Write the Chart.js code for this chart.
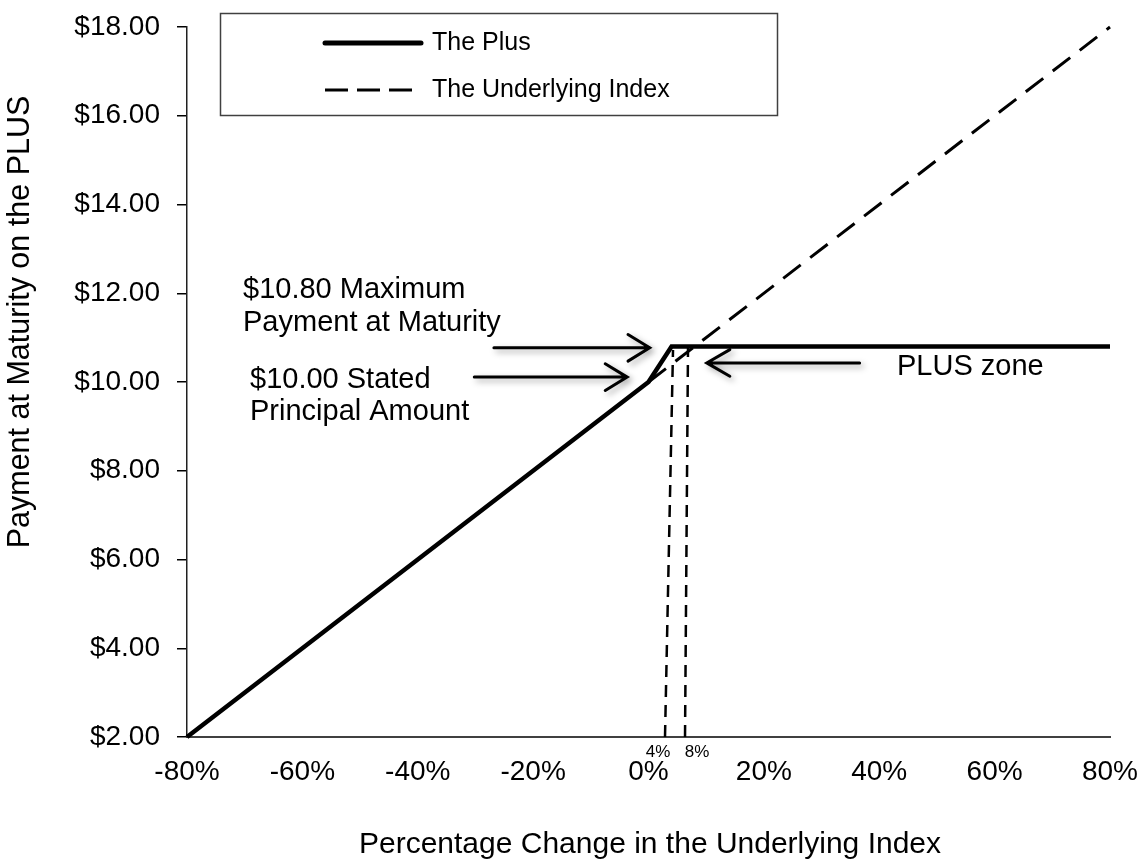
<!DOCTYPE html>
<html><head><meta charset="utf-8">
<script src="https://cdn.jsdelivr.net/npm/chart.js@4.4.0/dist/chart.umd.min.js"></script>
<style>html,body{margin:0;padding:0;background:#fff;} #wrap{width:1142px;height:860px;position:relative;}</style>
</head><body><div id="wrap"><canvas id="c" width="1142" height="860"></canvas></div>
<script>
// ---- data ----
const xTicks = [-80, -60, -40, -20, 0, 20, 40, 60, 80];
const yTicks = [2, 4, 6, 8, 10, 12, 14, 16, 18];
const pctChange = [-80, 0, 4, 80];
const plusPayment = [2, 10, 10.8, 10.8];
const indexPct = [0, 80];
const indexValue = [10, 18];
const guide4Pct = [2.86, 4.25];
const guide4Value = [2, 10.72];
const guide8Pct = [6.33, 6.85];
const guide8Value = [2, 10.83];
const arrowMaxPct = [-26.8, 0.2, null, -3.55, 0.2, -3.55];
const arrowMaxValue = [10.77, 10.77, null, 11.07, 10.77, 10.47];
const arrowPrincipalPct = [-30.2, -3.7, null, -7.5, -3.7, -7.5];
const arrowPrincipalValue = [10.11, 10.11, null, 10.41, 10.11, 9.81];
const arrowZonePct = [36.6, 10.1, null, 14.1, 10.1, 14.1];
const arrowZoneValue = [10.43, 10.43, null, 10.73, 10.43, 10.13];
const seriesNames = ['The Plus', 'The Underlying Index'];
const guideLabels = ['4%', '8%'];
const annotationLines = [
  ['$10.80 Maximum', 'Payment at Maturity'],
  ['$10.00 Stated', 'Principal Amount'],
  ['PLUS zone']
];
const xTitle = 'Percentage Change in the Underlying Index';
const yTitle = 'Payment at Maturity on the PLUS';

// ---- helpers ----
const pts = (xs, ys) => xs.map((x, i) => (x === null ? {x: null, y: null} : {x: x, y: ys[i]}));
const FONT = '"Liberation Sans", Arial, sans-serif';

const base = {showLine: true, pointRadius: 0, pointHoverRadius: 0, fill: false, clip: false, spanGaps: false, borderColor: '#000'};

const datasets = [
  Object.assign({}, base, {label: seriesNames[0], data: pts(pctChange, plusPayment), borderWidth: 4.5, borderJoinStyle: 'miter', borderCapStyle: 'butt'}),
  Object.assign({}, base, {label: seriesNames[1], data: pts(indexPct, indexValue), borderWidth: 3, borderDash: [22, 12]}),
  Object.assign({}, base, {label: 'g4', data: pts(guide4Pct, guide4Value), borderWidth: 2.5, borderDash: [12, 8]}),
  Object.assign({}, base, {label: 'g8', data: pts(guide8Pct, guide8Value), borderWidth: 2.5, borderDash: [12, 8]}),
  Object.assign({}, base, {label: 'a1', isArrow: true, data: pts(arrowMaxPct, arrowMaxValue), borderWidth: 3, borderCapStyle: 'round'}),
  Object.assign({}, base, {label: 'a2', isArrow: true, data: pts(arrowPrincipalPct, arrowPrincipalValue), borderWidth: 3, borderCapStyle: 'round'}),
  Object.assign({}, base, {label: 'a3', isArrow: true, data: pts(arrowZonePct, arrowZoneValue), borderWidth: 3, borderCapStyle: 'round'})
];

const arrowShadow = {
  id: 'arrowShadow',
  beforeDatasetDraw(chart, args) {
    const ds = chart.data.datasets[args.index];
    if (ds.isArrow) {
      const ctx = chart.ctx;
      ctx.save();
      ctx.shadowColor = 'rgba(0,0,0,0.35)';
      ctx.shadowBlur = 6;
      ctx.shadowOffsetX = 3;
      ctx.shadowOffsetY = 3;
    }
  },
  afterDatasetDraw(chart, args) {
    const ds = chart.data.datasets[args.index];
    if (ds.isArrow) chart.ctx.restore();
  }
};

const decorations = {
  id: 'decorations',
  afterDraw(chart) {
    const ctx = chart.ctx;
    ctx.save();
    // legend box
    ctx.strokeStyle = '#404040';
    ctx.lineWidth = 1.5;
    ctx.strokeRect(220.5, 13.5, 557, 102);
    ctx.strokeStyle = '#000';
    ctx.lineWidth = 5;
    ctx.lineCap = 'round';
    ctx.beginPath(); ctx.moveTo(325, 43); ctx.lineTo(421, 43); ctx.stroke();
    ctx.lineWidth = 3;
    ctx.lineCap = 'butt';
    ctx.setLineDash([23, 9]);
    ctx.beginPath(); ctx.moveTo(325, 90); ctx.lineTo(421, 90); ctx.stroke();
    ctx.setLineDash([]);
    ctx.fillStyle = '#000';
    ctx.font = '25px ' + FONT;
    ctx.textBaseline = 'middle';
    ctx.textAlign = 'left';
    ctx.fillText(chart.data.datasets[0].label, 432, 43);
    ctx.fillText(chart.data.datasets[1].label, 432, 90);

    // annotation texts
    ctx.font = '29px ' + FONT;
    ctx.fillText(annotationLines[0][0], 243, 290);
    ctx.fillText(annotationLines[0][1], 243, 323);
    ctx.fillText(annotationLines[1][0], 250, 380);
    ctx.fillText(annotationLines[1][1], 250, 412);
    ctx.fillText(annotationLines[2][0], 897, 367);

    // guide labels
    ctx.font = '17px ' + FONT;
    ctx.textAlign = 'center';
    ctx.fillText(guideLabels[0], 658, 752);
    ctx.fillText(guideLabels[1], 697, 752);

    // axis titles
    ctx.font = '30px ' + FONT;
    ctx.textAlign = 'center';
    ctx.textBaseline = 'middle';
    ctx.fillText(xTitle, 650, 845);
    ctx.save();
    ctx.font = '30.5px ' + FONT;
    ctx.translate(21, 322);
    ctx.rotate(-Math.PI / 2);
    ctx.fillText(yTitle, 0, 0);
    ctx.restore();
    ctx.restore();
  }
};

new Chart(document.getElementById('c'), {
  type: 'scatter',
  data: {datasets: datasets},
  options: {
    responsive: false,
    animation: false,
    devicePixelRatio: 1,
    events: [],
    layout: {padding: {top: 27, right: 32, left: 0, bottom: 0}},
    plugins: {legend: {display: false}, tooltip: {enabled: false}, title: {display: false}},
    scales: {
      x: {
        type: 'linear', min: -80, max: 80,
        afterBuildTicks: s => { s.ticks = xTicks.map(v => ({value: v})); },
        afterFit: s => { s.height = 123; s.paddingLeft = 0; s.paddingRight = 0; },
        grid: {display: true, drawOnChartArea: false, drawTicks: false},
        border: {display: true, color: '#404040', width: 2},
        ticks: {color: '#000', font: {family: FONT, size: 28}, padding: 18, maxRotation: 0, autoSkip: false,
          callback: v => v + '%'}
      },
      y: {
        type: 'linear', min: 2, max: 18,
        afterBuildTicks: s => { s.ticks = yTicks.map(v => ({value: v})); },
        afterFit: s => { s.width = 187; s.paddingTop = 0; s.paddingBottom = 0; },
        grid: {display: true, drawOnChartArea: false, drawTicks: true, tickLength: 10, color: '#000', lineWidth: 1.5},
        border: {display: true, color: '#202020', width: 1.5},
        ticks: {color: '#000', font: {family: FONT, size: 28}, padding: 17, autoSkip: false,
          callback: v => '$' + Number(v).toFixed(2)}
      }
    }
  },
  plugins: [arrowShadow, decorations]
});
</script>
</body></html>
